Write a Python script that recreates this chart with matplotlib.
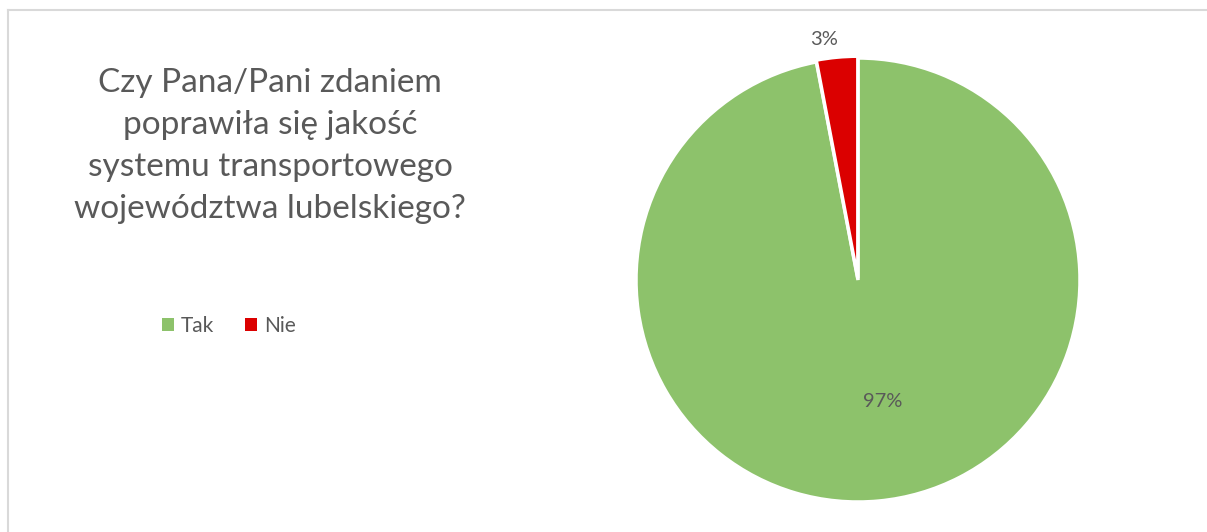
import numpy as np
import matplotlib.pyplot as plt
from matplotlib.patches import Patch

labels = ["Tak", "Nie"]
shares = [97, 3]
colors = ["#8dc26b", "#db0000"]
title = "Czy Pana/Pani zdaniem\npoprawiła się jakość\nsystemu transportowego\nwojewództwa lubelskiego?"

plt.rcParams['font.family'] = ['Lato', 'DejaVu Sans']
text_grey = "#595959"

W, H = 1207, 532
fig = plt.figure(figsize=(W / 100, H / 100), dpi=100)

# light grey chart border (only top and left visible)
fig.add_artist(plt.Line2D([7.5 / W, 7.5 / W], [0, 1 - 9.5 / H], transform=fig.transFigure,
                          color="#d9d9d9", lw=1.5))
fig.add_artist(plt.Line2D([7.5 / W, 1], [1 - 9.5 / H, 1 - 9.5 / H], transform=fig.transFigure,
                          color="#d9d9d9", lw=1.5))

cx, cy, r = 858, 280, 222
ax = fig.add_axes([(cx - r) / W, (H - cy - r) / H, 2 * r / W, 2 * r / H])
wedges, _ = ax.pie(shares, colors=colors, startangle=90, counterclock=False,
                   explode=[0, 0.008],
                   wedgeprops=dict(edgecolor="white", linewidth=2.5))
ax.set_xlim(-1, 1)
ax.set_ylim(-1, 1)
ax.set_aspect("equal")
ax.axis("off")

# percentage labels
label_r = [0.55, 1.09]
label_dx = [0.06, -0.05]
for w, s, lr, dx in zip(wedges, shares, label_r, label_dx):
    ang = np.deg2rad((w.theta1 + w.theta2) / 2)
    ax.text(lr * np.cos(ang) + dx, lr * np.sin(ang), f"{s}%", ha="center", va="center",
            fontsize=14.5, color=text_grey)

fig.text(270 / W, 1 - 146 / H, title, ha="center", va="center", fontsize=24,
         color=text_grey, linespacing=1.5)

handles = [Patch(facecolor=c, edgecolor="none") for c in colors]
fig.legend(handles, labels, loc="center", bbox_to_anchor=(229 / W, 1 - 326 / H), ncol=2,
           frameon=False, fontsize=15, labelcolor=text_grey, handlelength=0.55,
           handleheight=0.55, handletextpad=0.35, columnspacing=1.5)

fig.savefig("out.png", dpi=100)
